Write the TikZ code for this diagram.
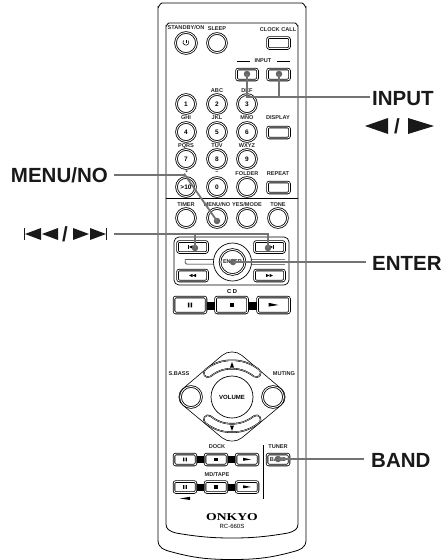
\documentclass[tikz,border=0pt]{standalone}
\usepackage{fontspec}
\setmainfont{Liberation Sans}
\newfontfamily\logofont[FakeStretch=1.3]{Liberation Serif}
\tikzset{
  rbtn/.style={circle,draw=black,double=white,line width=.8pt,double distance=.9pt,fill=white,minimum size=#1,inner sep=0pt,font=\bfseries\fontsize{6.5}{7}\selectfont},
  rbtn/.default=19pt,
  sbtn/.style={rectangle,rounded corners=2pt,draw=black,double=white,line width=.8pt,double distance=.9pt,fill=white,minimum width=#1,minimum height=11pt,inner sep=0pt},
  sbtn/.default=22pt,
  tiny/.style={font=\bfseries\fontsize{5.6}{6}\selectfont,inner sep=0pt,text=black!85},
  big/.style={font=\bfseries\fontsize{20.5}{22}\selectfont,inner sep=0pt,text=black!90},
  body/.style={draw=black,line width=.8pt},
  leader/.style={draw=black!55,line width=1.8pt},
  ldot/.style={circle,fill=black!60,minimum size=6.5pt,inner sep=0pt},
  glyph/.style={fill=black,draw=none},
  bridge/.style={fill=black,draw=none},
  pausegl/.pic={\fill[glyph] (-2.2,-2.3) rectangle (-.7,2.3) (.7,-2.3) rectangle (2.2,2.3);},
  stopgl/.pic={\fill[glyph] (-2,-2) rectangle (2,2);},
  playgl/.pic={\fill[glyph] (-5,-2.2) -- (5,0) -- (-5,1.6) -- cycle;}
}
\newcommand{\pillpath}[1]{\foreach \w/\c in {10/black,8.8/white,7.9/black,6.8/white}{\draw[line cap=round,line width=\w pt,\c] #1;}}
\begin{document}
\begin{tikzpicture}[x=1pt,y=-1pt]
\useasboundingbox (0,0) rectangle (444,560);
% casing
\draw[body] (162,3) -- (302,3) to[out=0,in=-90] (306,7) -- (306,540)
  .. controls (306,548) and (300,550) .. (292,552) .. controls (270,558) and (255,559.5) .. (232,559.5)
  .. controls (209,559.5) and (194,558) .. (172,552) .. controls (164,550) and (158,548) .. (158,540) -- (158,7) to[out=-90,in=180] (162,3);
\draw[body] (169,23) -- (295,23) to[out=0,in=-90] (298,26) -- (298,524)
  .. controls (298,529) and (295,531) .. (288,533) .. controls (265,537) and (250,538) .. (232,538)
  .. controls (214,538) and (199,537) .. (176,533) .. controls (169,531) and (166,529) .. (166,524) -- (166,26) to[out=-90,in=180] (169,23);
\draw[body,line width=.6pt] (166,198) -- (298,198);
% top row
\node[tiny] at (186,28) {STANDBY/ON};
\node[tiny] at (217,29) {SLEEP};
\node[tiny] at (278,30) {CLOCK CALL};
\node[rbtn=21pt] (standby) at (186,43) {};
\draw[line width=.6pt] (186,39.5) -- (186,43);
\draw[line width=.6pt] (183.5,40.5) arc[start angle=215,end angle=-35,radius=3];
\node[rbtn=19pt] (sleep) at (217,43) {};
\node[sbtn=22pt] (clock) at (278.5,43) {};
% input
\node[tiny] (inlab) at (263,61) {INPUT};
\draw[line width=.6pt] (237,61) -- (250,61) (277,61) -- (290,61);
\node[sbtn=21pt] (inl) at (247,74.5) {};
\node[sbtn=22pt] (inr) at (278.5,74.5) {};
% number rows
\node[tiny] at (217,91) {ABC};
\node[tiny] at (247,91) {DEF};
\node[tiny] at (186,118) {GHI};
\node[tiny] at (217,118) {JKL};
\node[tiny] at (247,118) {MNO};
\node[tiny] at (278,118) {DISPLAY};
\node[tiny] at (186,146) {PQRS};
\node[tiny] at (217,146) {TUV};
\node[tiny] at (247,146) {WXYZ};
\node[tiny] at (186,173) {.*};
\node[tiny] at (217,173) {--};
\node[tiny] at (247,174) {FOLDER};
\node[tiny] at (278,174) {REPEAT};
\node[rbtn] (n1) at (186,104) {1};
\node[rbtn] (n2) at (217,104) {2};
\node[rbtn] (n3) at (247,104) {3};
\node[rbtn] (n4) at (186,132) {4};
\node[rbtn] (n5) at (217,132) {5};
\node[rbtn] (n6) at (247,132) {6};
\node[sbtn=22pt] (disp) at (278.5,132.5) {};
\node[rbtn] (n7) at (186,159) {7};
\node[rbtn] (n8) at (217,159) {8};
\node[rbtn] (n9) at (247,159) {9};
\node[rbtn] (n10) at (186,187) {>10};
\node[rbtn] (n0) at (217,187) {0};
\node[rbtn] (folder) at (247,187) {};
\node[sbtn=22pt] (rep) at (278.5,187.5) {};
% mode row
\node[tiny] at (186,205) {TIMER};
\node[tiny] at (217,205) {MENU/NO};
\node[tiny] at (247,205) {YES/MODE};
\node[tiny] at (278,205) {TONE};
\node[rbtn] (timer) at (186,218) {};
\node[rbtn] (menu) at (217,218) {};
\node[rbtn] (yes) at (247,218) {};
\node[rbtn] (tone) at (278,218) {};
% transport panel
\draw[body,rounded corners=5pt,line width=.7pt] (174,237) rectangle (289,285);
\draw[line width=.5pt,rounded corners=1.5pt] (185,259.5) -- (216,259.5) (216,264) -- (185,264) -- (185,259.5);
\draw[line width=.4pt,black!50] (250,259.5) -- (285,259.5) (250,264) -- (285,264);
\node[sbtn=30pt] (prev) at (192.5,247) {};
\node[sbtn=30pt] (next) at (269.5,247) {};
\node[sbtn=30pt] (rew) at (192.5,275.5) {};
\node[sbtn=30pt] (ffw) at (269.5,275.5) {};
\foreach \n/\d in {rew/-1,ffw/1}{
  \fill[glyph] ([xshift=\d*3.5]\n.center) -- ++(-\d*3.5,-1.6) -- ++(0,3.2) -- cycle;
  \fill[glyph] (\n.center) -- ++(-\d*3.5,-1.6) -- ++(0,3.2) -- cycle;
}
\foreach \n/\d in {prev/-1,next/1}{
  \fill[glyph] ([xshift=\d*3.5]\n.center) -- ++(-\d*3.5,-1.6) -- ++(0,3.2) -- cycle;
  \fill[glyph] (\n.center) -- ++(-\d*3.5,-1.6) -- ++(0,3.2) -- cycle;
  \fill[glyph] ([xshift=\d*3.5,yshift=-1.8]\n.center) rectangle ([xshift=\d*4.2,yshift=1.8]\n.center);
}
\node[circle,draw=black,line width=.7pt,fill=white,minimum size=38pt,inner sep=0pt] (jog) at (232.5,262) {};
\node[rbtn=25pt,tiny] (enter) at (232.5,262) {ENTER};
% CD
\node[font=\bfseries\fontsize{5.8}{6}\selectfont,inner sep=0pt] at (232,291) {C D};
\fill[bridge] (205,302) rectangle (218,310);
\fill[bridge] (247,302) rectangle (260,310);
\node[sbtn=32pt,minimum height=16pt] (cdpause) at (190,305) {};
\node[sbtn=32pt,minimum height=16pt] (cdstop) at (231.5,305) {};
\node[sbtn=32pt,minimum height=16pt] (cdplay) at (273.5,305) {};
\pic at (cdpause) {pausegl};
\pic at (cdstop) {stopgl};
\pic at (cdplay) {playgl};
% volume
\draw[body,line width=.6pt,rounded corners=13pt] (232,347) -- (291,397) -- (232,446) -- (173,397) -- cycle;
\pillpath{(208,373) .. controls (216,366.5) and (224,364.5) .. (232,364.5) .. controls (240,364.5) and (248,366.5) .. (256.5,373)}
\pillpath{(208,419.5) .. controls (216,426) and (224,428) .. (232,428) .. controls (240,428) and (248,426) .. (256.5,419.5)}
\fill[glyph] (232,362) -- (234,367.5) -- (230,367.5) -- cycle;
\fill[glyph] (232,431) -- (234,425.5) -- (230,425.5) -- cycle;
\node[circle,draw=black,line width=.7pt,fill=white,minimum size=42pt,inner sep=0pt,font=\bfseries\fontsize{6}{7}\selectfont] (vol) at (232,397) {VOLUME};
\node[rbtn=21pt] (sbass) at (191,397) {};
\node[rbtn=21pt] (muting) at (273,397) {};
\node[tiny,fill=white,inner sep=.5pt] at (179,374) {S.BASS};
\node[tiny,fill=white,inner sep=.5pt] at (284,374) {MUTING};
% dock
\node[tiny] at (217,447) {DOCK};
\node[tiny] at (278,447) {TUNER};
\draw[line width=.7pt] (263,445) -- (263,499);
\fill[bridge] (195,456) rectangle (206,463);
\fill[bridge] (226,456) rectangle (237,463);
\node[sbtn=22pt,minimum height=11pt] (dpause) at (185,459.5) {};
\node[sbtn=22pt,minimum height=11pt] (dstop) at (216,459.5) {};
\node[sbtn=22pt,minimum height=11pt] (dplay) at (247,459.5) {};
\pic[scale=.8] at (dpause) {pausegl};
\pic[scale=.8] at (dstop) {stopgl};
\pic[scale=.8] at (dplay) {playgl};
\node[tiny] at (217,475) {MD/TAPE};
\fill[bridge] (195,484) rectangle (206,491);
\fill[bridge] (226,484) rectangle (237,491);
\node[sbtn=22pt,minimum height=11pt] (mpause) at (185,487) {};
\node[sbtn=22pt,minimum height=11pt] (mstop) at (216,487) {};
\node[sbtn=22pt,minimum height=11pt] (mplay) at (247,487) {};
\pic[scale=.8] at (mpause) {pausegl};
\pic[scale=.8] at (mstop) {stopgl};
\pic[scale=.8] at (mplay) {playgl};
\fill[glyph] (180,498.5) -- (190,496.8) -- (190,500) -- cycle;
\node[sbtn=22pt,minimum height=11pt,tiny] (band) at (278,459.5) {BAND};
% logo
\node[inner sep=0pt,font=\logofont\bfseries\fontsize{10.5}{11}\selectfont] (logo) at (232,517) {ONKYO};
\node[inner sep=0pt,font=\fontsize{6}{6}\selectfont] (model) at (232,526) {RC-660S};
% callout labels
\node[big,anchor=west] (linput) at (372,99) {INPUT};
\node[big,anchor=east] (lmenu) at (108,175.5) {MENU/NO};
\node[big,anchor=west] (lenter) at (372,263) {ENTER};
\node[big,anchor=west] (lband) at (371,460.5) {BAND};
% arrow labels
\node[big,inner sep=0pt] (lslash) at (397,126) {/};
\fill[black!90] (365,126) -- (388,118) -- (388,134) -- cycle;
\fill[black!90] (434,126) -- (408,118) -- (408,134) -- cycle;
\node[big,anchor=center] (lskip) at (65,234) {/};
\fill[black!90] (24,228) rectangle (25,240);
\fill[black!90] (25,234) -- (41,228) -- (41,240) -- cycle;
\fill[black!90] (42,234) -- (58,228) -- (58,240) -- cycle;
\fill[black!90] (73,228) -- (89,234) -- (73,240) -- cycle;
\fill[black!90] (90,228) -- (106,234) -- (90,240) -- cycle;
\fill[black!90] (106,228) rectangle (107,240);
% leaders
\node[ldot] (dinl) at (247,74) {};
\node[ldot] (dinr) at (279,74) {};
\node[ldot] (dmenu) at (217,221) {};
\node[ldot] (dprev) at (195,248) {};
\node[ldot] (dnext) at (268,248) {};
\node[ldot] (dent) at (233,262) {};
\node[ldot] (dband) at (278,459) {};
\coordinate (ein) at (370,97);
\coordinate (smenu) at (114,175);
\coordinate (kmenu) at (185,175);
\coordinate (sskip) at (114,234);
\coordinate (eent) at (366,262);
\coordinate (eband) at (364,459);
\draw[leader] (dinl.center) |- (ein);
\draw[leader] (dinr.center) -- (dinr |- ein);
\draw[leader] (smenu) -- (kmenu) -- (dmenu.center);
\draw[leader] (sskip) -| (dnext.center);
\draw[leader] (dprev.center) -- (dprev |- sskip);
\draw[leader] (dent.center) -- (eent);
\draw[leader] (dband.center) -- (eband);
\end{tikzpicture}
\end{document}
